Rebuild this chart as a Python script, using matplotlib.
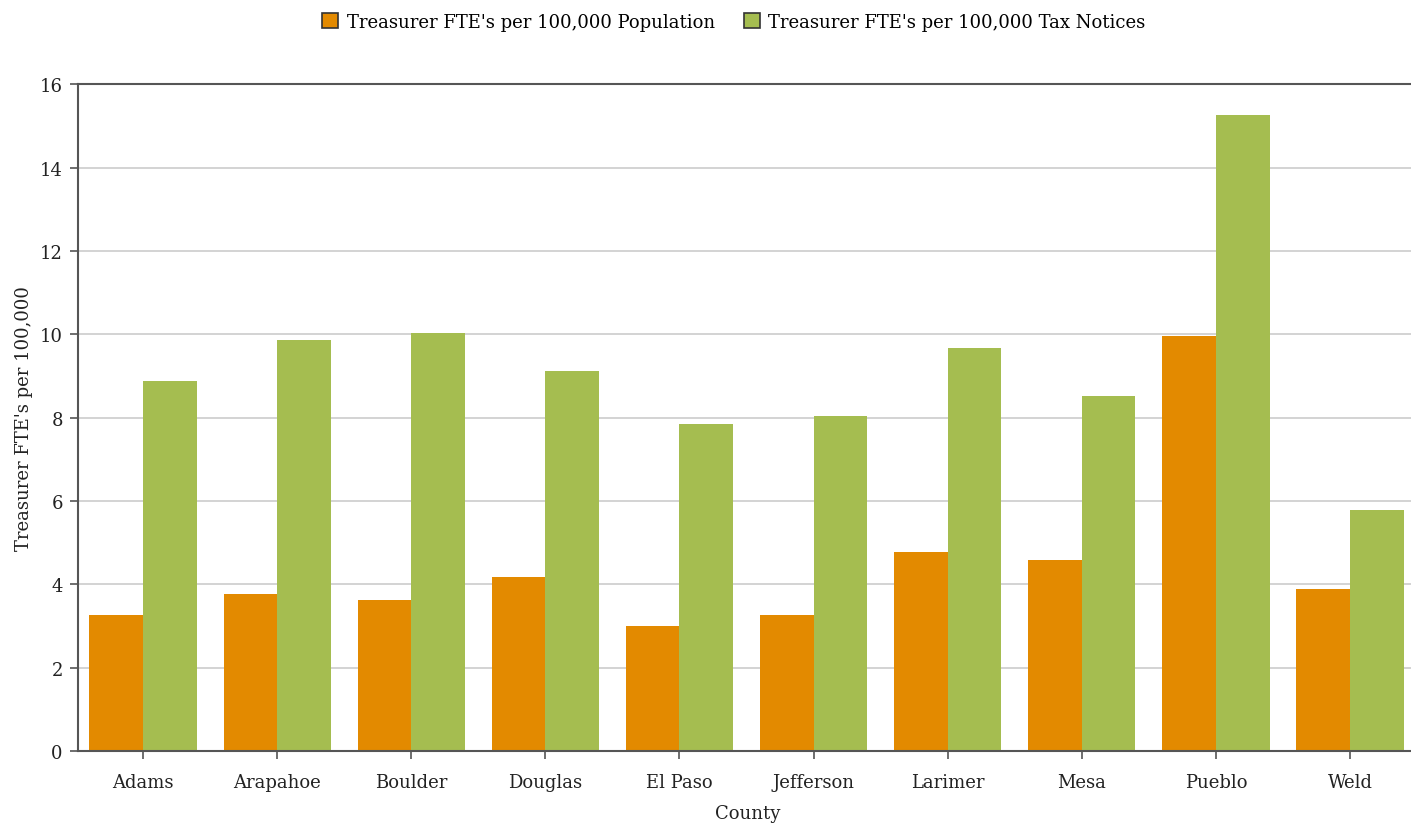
import matplotlib.pyplot as plt
import numpy as np
from matplotlib.patches import Patch

counties = ['Adams', 'Arapahoe', 'Boulder', 'Douglas', 'El Paso',
            'Jefferson', 'Larimer', 'Mesa', 'Pueblo', 'Weld']
per_population = [3.27, 3.77, 3.63, 4.18, 3.0, 3.25, 4.78, 4.57, 9.95, 3.89]
per_tax_notices = [8.87, 9.86, 10.02, 9.11, 7.84, 8.03, 9.66, 8.51, 15.26, 5.77]

ORANGE = '#E38A00'
GREEN = '#A5BD50'

plt.rcParams['font.family'] = ['DejaVu Serif']

fig = plt.figure(figsize=(14.11, 8.28), dpi=100)
# axes runs a little past the right edge of the figure, like the original
ax = fig.add_axes([0.0553, 0.092, 0.949, 0.805])

x = np.arange(len(counties))
w = 0.4
ax.bar(x - w / 2, per_population, w, color=ORANGE, zorder=2)
ax.bar(x + w / 2, per_tax_notices, w, color=GREEN, zorder=2)

ax.set_xlim(-0.485, len(counties) - 0.5)
ax.set_ylim(0, 16)
ax.set_yticks(range(0, 17, 2))
ax.set_xticks(x)
ax.set_xticklabels(counties)
ax.yaxis.grid(True, color='#cccccc', linewidth=1.2, zorder=0)
ax.set_axisbelow(True)

for side in ['left', 'bottom', 'top']:
    ax.spines[side].set_color('#555555')
    ax.spines[side].set_linewidth(1.5)
ax.spines['right'].set_visible(False)
ax.tick_params(axis='both', colors='#555555', labelcolor='#222222',
               labelsize=13, length=6, width=1.2)
ax.tick_params(axis='x', pad=10)
ax.tick_params(axis='y', pad=5)

ax.set_xlabel('County', fontsize=13, color='#222222', labelpad=9)
ax.set_ylabel("Treasurer FTE's per 100,000", fontsize=13, color='#222222', labelpad=5)

handles = [Patch(facecolor=ORANGE, edgecolor='#333333', linewidth=1.2),
           Patch(facecolor=GREEN, edgecolor='#333333', linewidth=1.2)]
fig.legend(handles, ["Treasurer FTE's per 100,000 Population",
                     "Treasurer FTE's per 100,000 Tax Notices"],
           loc='upper center', bbox_to_anchor=(0.52, 1.003), ncol=2,
           frameon=False, fontsize=13, handlelength=0.9, handleheight=0.9,
           handletextpad=0.45, columnspacing=1.6)

fig.savefig('out.png', dpi=100)
